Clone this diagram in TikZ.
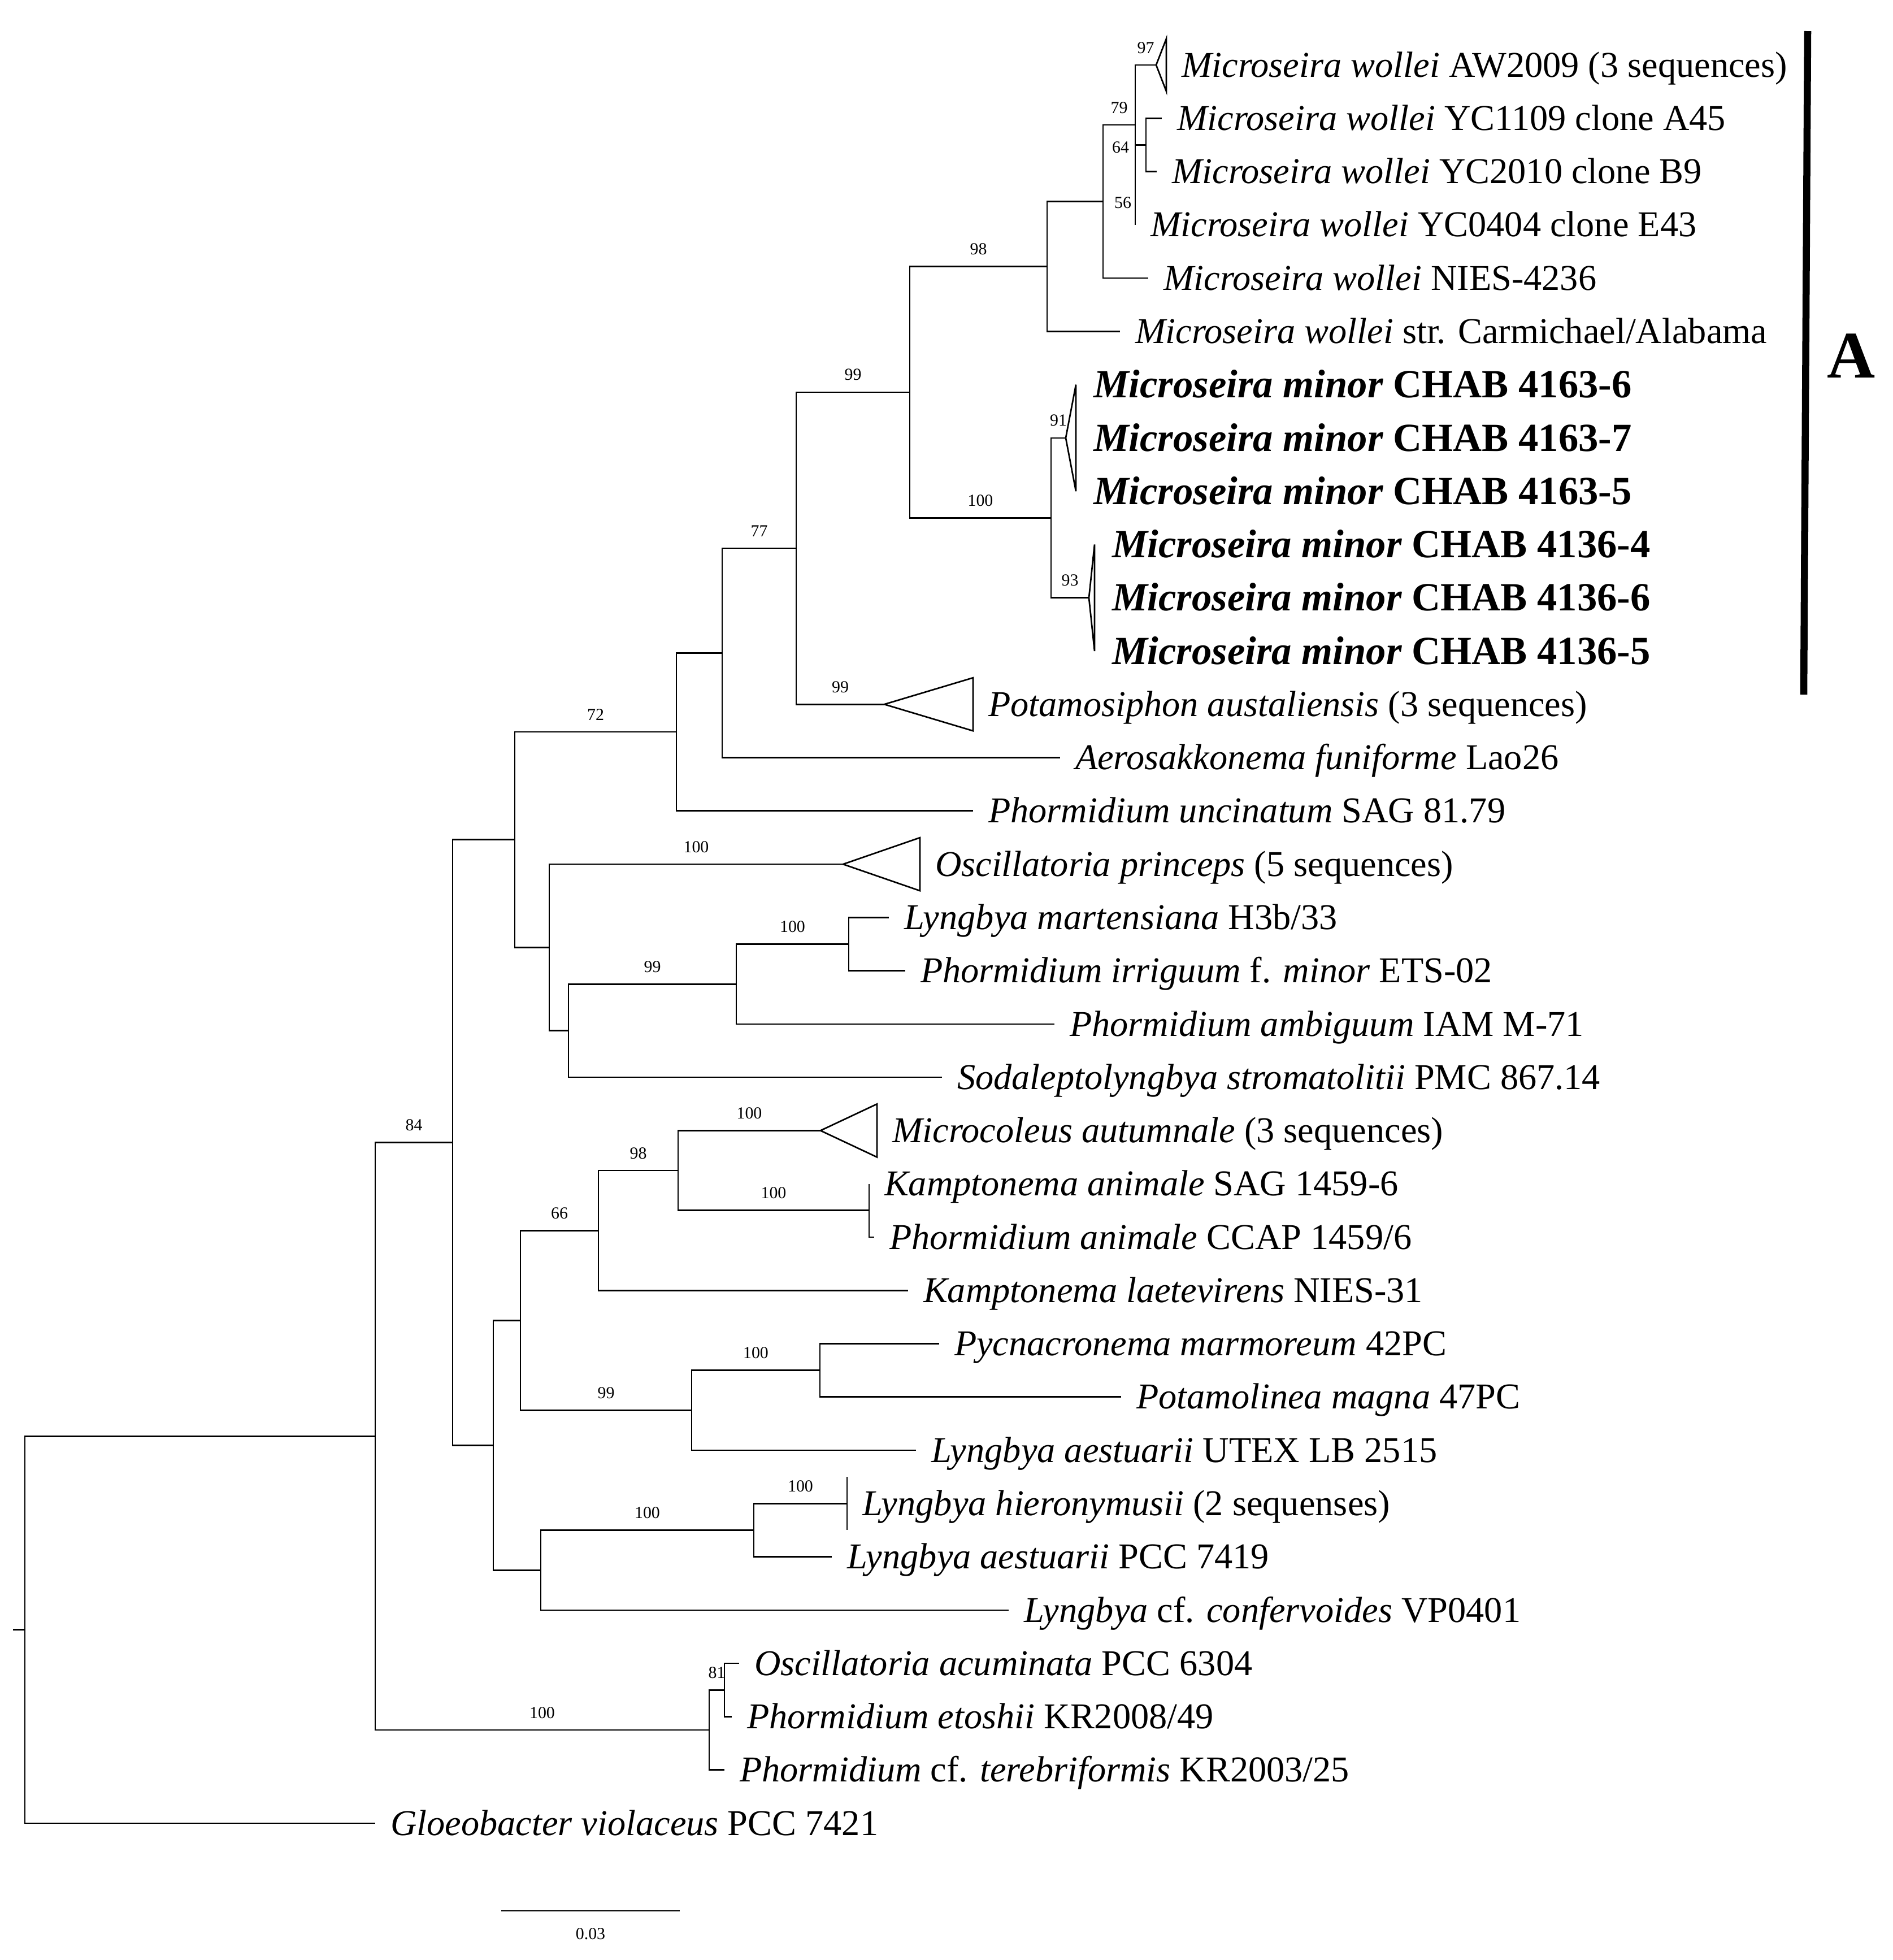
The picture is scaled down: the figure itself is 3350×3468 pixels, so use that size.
\documentclass[tikz,border=0pt]{standalone}
\usepackage{fontspec}
\setmainfont{Liberation Serif}
\usetikzlibrary{positioning}

\begin{document}
\begin{tikzpicture}[x=0.01cm,y=-0.01cm,line width=0.77pt,
    leaf/.style={anchor=west,inner xsep=0.27cm,inner ysep=0pt,outer sep=0pt,
                 font=\fontsize{18.3}{22}\selectfont,text height=12pt,text depth=0pt},
    boldleaf/.style={leaf,inner xsep=0.31cm,font=\fontsize{20.1}{24}\selectfont\bfseries,text height=13.2pt},
    boot/.style={inner sep=0pt,outer sep=0pt,font=\fontsize{8.5}{10}\selectfont,
                 text height=5.8pt,text depth=0pt},
    bs/.style={boot,pos=0.75,above=0.21cm}]
  \useasboundingbox (0,0) rectangle (3350,3468);

  % internal nodes
  \coordinate (stub)   at (23,2883.6);
  \coordinate (root)   at (44,2883.6);
  \coordinate (ingrp)  at (664,2541.2);
  \coordinate (core)   at (801,2021.4);
  \coordinate (upper)  at (911,1485.7);
  \coordinate (c72)    at (1197,1295.0);
  \coordinate (mid)    at (1278,1155.3);
  \coordinate (c77)    at (1409,970.1);
  \coordinate (micro)  at (1610,693.9);
  \coordinate (wollei) at (1853,471.5);
  \coordinate (wolA)   at (1952,356.6);
  \coordinate (c79)    at (2009,221.1);
  \coordinate (c56)    at (2009,327.1);
  \coordinate (c64)    at (2028,256.4);
  \coordinate (minor)  at (1860,916.3);
  \coordinate (lyn)    at (972,1676.4);
  \coordinate (phorm)  at (1006,1823.6);
  \coordinate (amb)    at (1303,1741.2);
  \coordinate (mart)   at (1502,1670.5);
  \coordinate (low)    at (873,2557.2);
  \coordinate (kamp)   at (921,2336.2);
  \coordinate (c66)    at (1059,2177.2);
  \coordinate (c98)    at (1200,2071.1);
  \coordinate (anim)   at (1538,2141.8);
  \coordinate (pyc)    at (1224,2495.3);
  \coordinate (pota)   at (1451,2424.6);
  \coordinate (lyng)   at (957,2778.2);
  \coordinate (hier)   at (1334,2707.4);
  \coordinate (acum)   at (1255,3061.0);
  \coordinate (c81)    at (1282,2990.3);

  % collapsed clades
  \coordinate (awA)  at (2046,115.0);
  \coordinate (m91)  at (1886,774.9);
  \coordinate (m93)  at (1927,1057.7);
  \coordinate (potA) at (1565,1246.2);
  \coordinate (oscA) at (1492,1529.1);
  \coordinate (micA) at (1452,2000.4);
  \coordinate (hieA) at (1499,2660.3);

  \draw (awA) -- (2064,68.5) -- (2064,161.5) -- cycle;
  \draw (m91) -- (1904,680.6) -- (1904,869.2) -- cycle;
  \draw (m93) -- (1937,963.4) -- (1937,1152.0) -- cycle;
  \draw (potA) -- (1722,1199.2) -- (1722,1293.2) -- cycle;
  \draw (oscA) -- (1628,1482.1) -- (1628,1576.1) -- cycle;
  \draw (micA) -- (1552,1953.4) -- (1552,2047.4) -- cycle;
  \draw (1499,2613.2) -- (1499,2707.4);

  % taxa
  \node[leaf] (aw)    at (2064,115.0)  {\textit{Microseira wollei} AW2009 (3 sequences)};
  \node[leaf] (a45)   at (2056,209.3)  {\textit{Microseira wollei} YC1109 clone A45};
  \node[leaf] (b9)    at (2047,303.5)  {\textit{Microseira wollei} YC2010 clone B9};
  \node[leaf] (e43)   at (2009,397.8)  {\textit{Microseira wollei} YC0404 clone E43};
  \node[leaf] (nies)  at (2032,492.1)  {\textit{Microseira wollei} NIES-4236};
  \node[leaf] (carm)  at (1982,586.4)  {\textit{Microseira wollei} str. Carmichael/Alabama};
  \node[boldleaf] (ch6)  at (1904,680.6)  {\textit{Microseira minor} CHAB 4163-6};
  \node[boldleaf] (ch7)  at (1904,774.9)  {\textit{Microseira minor} CHAB 4163-7};
  \node[boldleaf] (ch5)  at (1904,869.2)  {\textit{Microseira minor} CHAB 4163-5};
  \node[boldleaf] (cg4)  at (1937,963.4)  {\textit{Microseira minor} CHAB 4136-4};
  \node[boldleaf] (cg6)  at (1937,1057.7) {\textit{Microseira minor} CHAB 4136-6};
  \node[boldleaf] (cg5)  at (1937,1152.0) {\textit{Microseira minor} CHAB 4136-5};
  \node[leaf] (potam) at (1722,1246.2) {\textit{Potamosiphon austaliensis} (3 sequences)};
  \node[leaf] (aero)  at (1876,1340.5) {\textit{Aerosakkonema funiforme} Lao26};
  \node[leaf] (unc)   at (1722,1434.8) {\textit{Phormidium uncinatum} SAG 81.79};
  \node[leaf] (princ) at (1628,1529.1) {\textit{Oscillatoria princeps} (5 sequences)};
  \node[leaf] (lmart) at (1573,1623.3) {\textit{Lyngbya martensiana} H3b/33};
  \node[leaf] (irrig) at (1602,1717.6) {\textit{Phormidium irriguum} f. \textit{minor} ETS-02};
  \node[leaf] (ambig) at (1866,1811.9) {\textit{Phormidium ambiguum} IAM M-71};
  \node[leaf] (soda)  at (1667,1906.1) {\textit{Sodaleptolyngbya stromatolitii} PMC 867.14};
  \node[leaf] (autum) at (1552,2000.4) {\textit{Microcoleus autumnale} (3 sequences)};
  \node[leaf] (kanim) at (1538,2094.7) {\textit{Kamptonema animale} SAG 1459-6};
  \node[leaf] (panim) at (1547,2189.0) {\textit{Phormidium animale} CCAP 1459/6};
  \node[leaf] (laet)  at (1607,2283.2) {\textit{Kamptonema laetevirens} NIES-31};
  \node[leaf] (pmarm) at (1662,2377.5) {\textit{Pycnacronema marmoreum} 42PC};
  \node[leaf] (pmag)  at (1984,2471.8) {\textit{Potamolinea magna} 47PC};
  \node[leaf] (utex)  at (1621,2566.0) {\textit{Lyngbya aestuarii} UTEX LB 2515};
  \node[leaf] (hiero) at (1499,2660.3) {\textit{Lyngbya hieronymusii} (2 sequenses)};
  \node[leaf] (pcc74) at (1472,2754.6) {\textit{Lyngbya aestuarii} PCC 7419};
  \node[leaf] (confe) at (1785,2848.9) {\textit{Lyngbya} cf. \textit{confervoides} VP0401};
  \node[leaf] (oacum) at (1308,2943.1) {\textit{Oscillatoria acuminata} PCC 6304};
  \node[leaf] (etosh) at (1295,3037.4) {\textit{Phormidium etoshii} KR2008/49};
  \node[leaf] (tereb) at (1282,3131.7) {\textit{Phormidium} cf. \textit{terebriformis} KR2003/25};
  \node[leaf] (gloeo) at (664,3225.9)  {\textit{Gloeobacter violaceus} PCC 7421};

  % branches
  \draw (stub) -- (root);
  \draw (root) |- (ingrp);
  \draw (root) |- (gloeo.west);
  \draw (ingrp) |- node[bs] (b84) {84} (core);
  \draw (ingrp) |- node[bs] (b100a) {100} (acum);
  \draw (acum) |- node[bs] (b81) {81} (c81);
  \draw (acum) |- (tereb.west);
  \draw (c81) |- (oacum.west);
  \draw (c81) |- (etosh.west);
  \draw (core) |- (upper);
  \draw (core) |- (low);
  \draw (upper) |- node[bs] (b72) {72} (c72);
  \draw (upper) |- (lyn);
  \draw (c72) |- (mid);
  \draw (c72) |- (unc.west);
  \draw (mid) |- node[bs] (b77) {77} (c77);
  \draw (mid) |- (aero.west);
  \draw (c77) |- node[bs] (b99a) {99} (micro);
  \draw (c77) |- node[bs] (b99b) {99} (potA);
  \draw (micro) |- node[bs] (b98a) {98} (wollei);
  \draw (micro) |- node[bs] (b100b) {100} (minor);
  \draw (minor) |- node[bs] (b91) {91} (m91);
  \draw (minor) |- node[bs] (b93) {93} (m93);
  \draw (wollei) |- (wolA);
  \draw (wollei) |- (carm.west);
  \draw (wolA) |- node[bs] (b79) {79} (c79);
  \draw (wolA) |- (nies.west);
  \draw (c79) |- node[bs] (b97) {97} (awA);
  \draw (c79) |- (c56);
  \draw (c56) |- (c64);
  \draw (c56) |- (e43.west);
  \draw (c64) |- (a45.west);
  \draw (c64) |- (b9.west);
  \node[boot] (b64) at (1983,260) {64};
  \node[boot] (b56) at (1987,358) {56};
  \draw (lyn) |- node[bs] (b100c) {100} (oscA);
  \draw (lyn) |- (phorm);
  \draw (phorm) |- node[bs] (b99c) {99} (amb);
  \draw (phorm) |- (soda.west);
  \draw (amb) |- node[bs] (b100d) {100} (mart);
  \draw (amb) |- (ambig.west);
  \draw (mart) |- (lmart.west);
  \draw (mart) |- (irrig.west);
  \draw (low) |- (kamp);
  \draw (low) |- (lyng);
  \draw (kamp) |- node[bs] (b66) {66} (c66);
  \draw (kamp) |- node[bs] (b99d) {99} (pyc);
  \draw (c66) |- node[bs] (b98b) {98} (c98);
  \draw (c66) |- (laet.west);
  \draw (c98) |- node[bs] (b100e) {100} (micA);
  \draw (c98) |- node[bs] (b100f) {100} (anim);
  \draw (anim) |- (kanim.west);
  \draw (anim) |- (panim.west);
  \draw (pyc) |- node[bs] (b100g) {100} (pota);
  \draw (pyc) |- (utex.west);
  \draw (pota) |- (pmarm.west);
  \draw (pota) |- (pmag.west);
  \draw (lyng) |- node[bs] (b100h) {100} (hier);
  \draw (lyng) |- (confe.west);
  \draw (hier) |- node[bs] (b100i) {100} (hieA);
  \draw (hier) |- (pcc74.west);

  % clade bar and scale
  \coordinate (barTop) at (3199,55);
  \coordinate (barBot) at (3192,1229);
  \draw[line width=0.125cm] (barTop) -- (barBot);
  \node[inner sep=0pt,font=\fontsize{33.5}{36}\selectfont\bfseries,text height=22pt,text depth=0pt]
    (cladeA) at (3276,630) {A};
  \coordinate (sbL) at (887,3381);
  \coordinate (sbR) at (1203,3381);
  \coordinate (sbM) at (1045,3381);
  \draw (sbL) -- (sbR);
  \node[boot,below=0.3cm of sbM] (sbT) {0.03};
\end{tikzpicture}
\end{document}
